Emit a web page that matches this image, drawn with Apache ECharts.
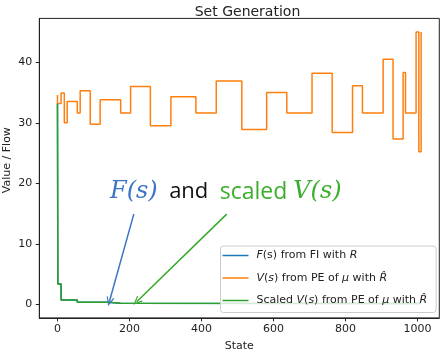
<!DOCTYPE html>
<html><head><meta charset="utf-8">
<script src="https://cdn.jsdelivr.net/npm/echarts@6/dist/echarts.min.js"></script>
<style>html,body{margin:0;padding:0;background:#fff}#c{width:442px;height:352px}</style>
</head><body><div id="c"></div>
<script>
// ---- data ----
const xTicks = [0, 200, 400, 600, 800, 1000];
const yTicks = [0, 10, 20, 30, 40];
const orangeStates = [0, 0, 10, 19, 27, 55, 63, 91, 118.5, 175.5, 203, 258, 315, 384.5, 441, 512, 581, 637, 707, 763, 819.5, 847, 904.5, 932, 960, 966.7, 996, 1003.6, 1010];
const orangeValues = [34.6, 33.2, 34.9, 30.0, 33.5, 31.6, 35.3, 29.75, 33.8, 31.6, 36.0, 29.5, 34.3, 31.6, 36.9, 28.9, 35.0, 31.6, 38.2, 28.4, 36.1, 31.6, 40.5, 27.3, 38.3, 31.6, 45.0, 25.2, 45.0];
const greenStates = [0, 1, 10, 55, 140, 175, 1010];
const greenValues = [33.2, 3.35, 0.7, 0.33, 0.17, 0.12, 0.12];
const blueStates = [0, 1, 10, 55, 140, 175, 1010];
const blueValues = [33.2, 3.35, 0.7, 0.33, 0.17, 0.12, 0.12];
const arrowBlue = [[212, 14.9], [144, 0.43]];
const arrowGreen = [[470, 14.9], [220, 0.43]];
const seriesNames = ['F(s) from FI with R', 'V(s) from PE of \u03bc with R\u0302', 'Scaled V(s) from PE of \u03bc with R\u0302'];

const pairs = (xs, ys) => xs.map((x, i) => [x, ys[i]]);
const FONT = 'DejaVu Sans';
const chevron = 'path://M0,0L5,10L3.4,10L0,3L-3.4,10L-5,10Z';
const lineIcon = 'path://M0,0L29,0L29,0.01L0,0.01Z M0,6.25L26,6.25L26,7.75L0,7.75Z M0,13.99L29,13.99L29,14L0,14Z';

const chart = echarts.init(document.getElementById('c'), null, {renderer: 'canvas'});
const legendFmt = {
  0: '{i|F}(s) from FI with {i|R}',
  1: '{i|V}({i|s}) from PE of {i|\u03bc} with {i|R\u0302}',
  2: 'Scaled {i|V}({i|s}) from PE of {i|\u03bc} with {i|R\u0302}'
};
chart.setOption({
  animation: false,
  textStyle: {fontFamily: FONT},
  title: {
    text: 'Set Generation', left: 242.5, top: 0, textAlign: 'center',
    textStyle: {fontFamily: FONT, fontSize: 14, fontWeight: 'normal', color: '#222'}
  },
  grid: {left: 39.3, top: 18.4, right: 2.7, bottom: 34.1, outerBoundsMode: 'none', containLabel: false,
    show: true, borderColor: '#222', borderWidth: 1, backgroundColor: 'transparent'},
  xAxis: {
    type: 'value', min: -50.5, max: 1060.5,
    name: 'State', nameLocation: 'middle', nameGap: 23, nameMoveOverlap: false,
    nameTextStyle: {fontFamily: FONT, fontSize: 11, color: '#222'},
    axisLine: {show: true, onZero: false, lineStyle: {color: '#222'}},
    splitLine: {show: false},
    axisTick: {show: true, length: 3.5, lineStyle: {color: '#222'}, customValues: xTicks},
    axisLabel: {fontFamily: FONT, fontSize: 11, color: '#222', margin: 6, customValues: xTicks, formatter: v => String(v)}
  },
  yAxis: {
    type: 'value', min: -2.25, max: 47.25,
    name: 'Value / Flow', nameLocation: 'middle', nameGap: 27, nameMoveOverlap: false,
    nameTextStyle: {fontFamily: FONT, fontSize: 11, color: '#222', padding: [0, 0, 0, 16]},
    axisLine: {show: true, onZero: false, lineStyle: {color: '#222'}},
    splitLine: {show: false},
    axisTick: {show: true, length: 3.5, lineStyle: {color: '#222'}, customValues: yTicks},
    axisLabel: {fontFamily: FONT, fontSize: 11, color: '#222', margin: 7, customValues: yTicks, formatter: v => String(v)}
  },
  legend: {
    orient: 'vertical', left: 220.5, top: 246,
    backgroundColor: 'rgba(255,255,255,0.8)', borderColor: '#ccc', borderWidth: 1, borderRadius: 3,
    padding: [2.5, 9, 5, 2], itemGap: 8.5, itemWidth: 29, itemHeight: 14,
    icon: lineIcon,
    data: seriesNames,
    formatter: name => legendFmt[seriesNames.indexOf(name)],
    textStyle: {fontFamily: FONT, fontSize: 11, color: '#222', lineHeight: 14,
      rich: {i: {fontFamily: FONT, fontSize: 11, fontStyle: 'italic', color: '#222'}}}
  },
  graphic: [{
    type: 'text', left: 110, top: 180,
    style: {
      text: '{m|F(s)}{a|  and  }{g|scaled }{gm|V(s)}',
      rich: {
        m: {fontFamily: 'DejaVu Serif', fontStyle: 'italic', fontSize: 24, fill: '#3d74c6'},
        a: {fontFamily: 'Open Sans', fontSize: 22, fill: '#111'},
        g: {fontFamily: 'Open Sans', fontSize: 23, fill: '#3cae2e'},
        gm: {fontFamily: 'DejaVu Serif', fontStyle: 'italic', fontSize: 24, fill: '#3cae2e'}
      }
    }
  }],
  series: [
    {
      name: seriesNames[0], type: 'line', step: 'end', symbol: 'none',
      data: pairs(blueStates, blueValues), lineStyle: {color: '#1f77b4', width: 1.5}, itemStyle: {color: '#1f77b4'},
      markLine: {
        silent: true, symbol: ['none', chevron], symbolSize: [8, 9], label: {show: false},
        lineStyle: {color: '#3d74c6', width: 1.5, type: 'solid'},
        data: [[{coord: arrowBlue[0]}, {coord: arrowBlue[1]}]]
      }
    },
    {
      name: seriesNames[1], type: 'line', step: 'end', symbol: 'none',
      data: pairs(orangeStates, orangeValues), lineStyle: {color: '#ff7f0e', width: 1.5}, itemStyle: {color: '#ff7f0e'}
    },
    {
      name: seriesNames[2], type: 'line', step: 'end', symbol: 'none',
      data: pairs(greenStates, greenValues), lineStyle: {color: '#2ca02c', width: 1.5}, itemStyle: {color: '#2ca02c'},
      markLine: {
        silent: true, symbol: ['none', chevron], symbolSize: [8, 9], label: {show: false},
        lineStyle: {color: '#35a82a', width: 1.5, type: 'solid'},
        data: [[{coord: arrowGreen[0]}, {coord: arrowGreen[1]}]]
      }
    }
  ]
});
</script></body></html>
